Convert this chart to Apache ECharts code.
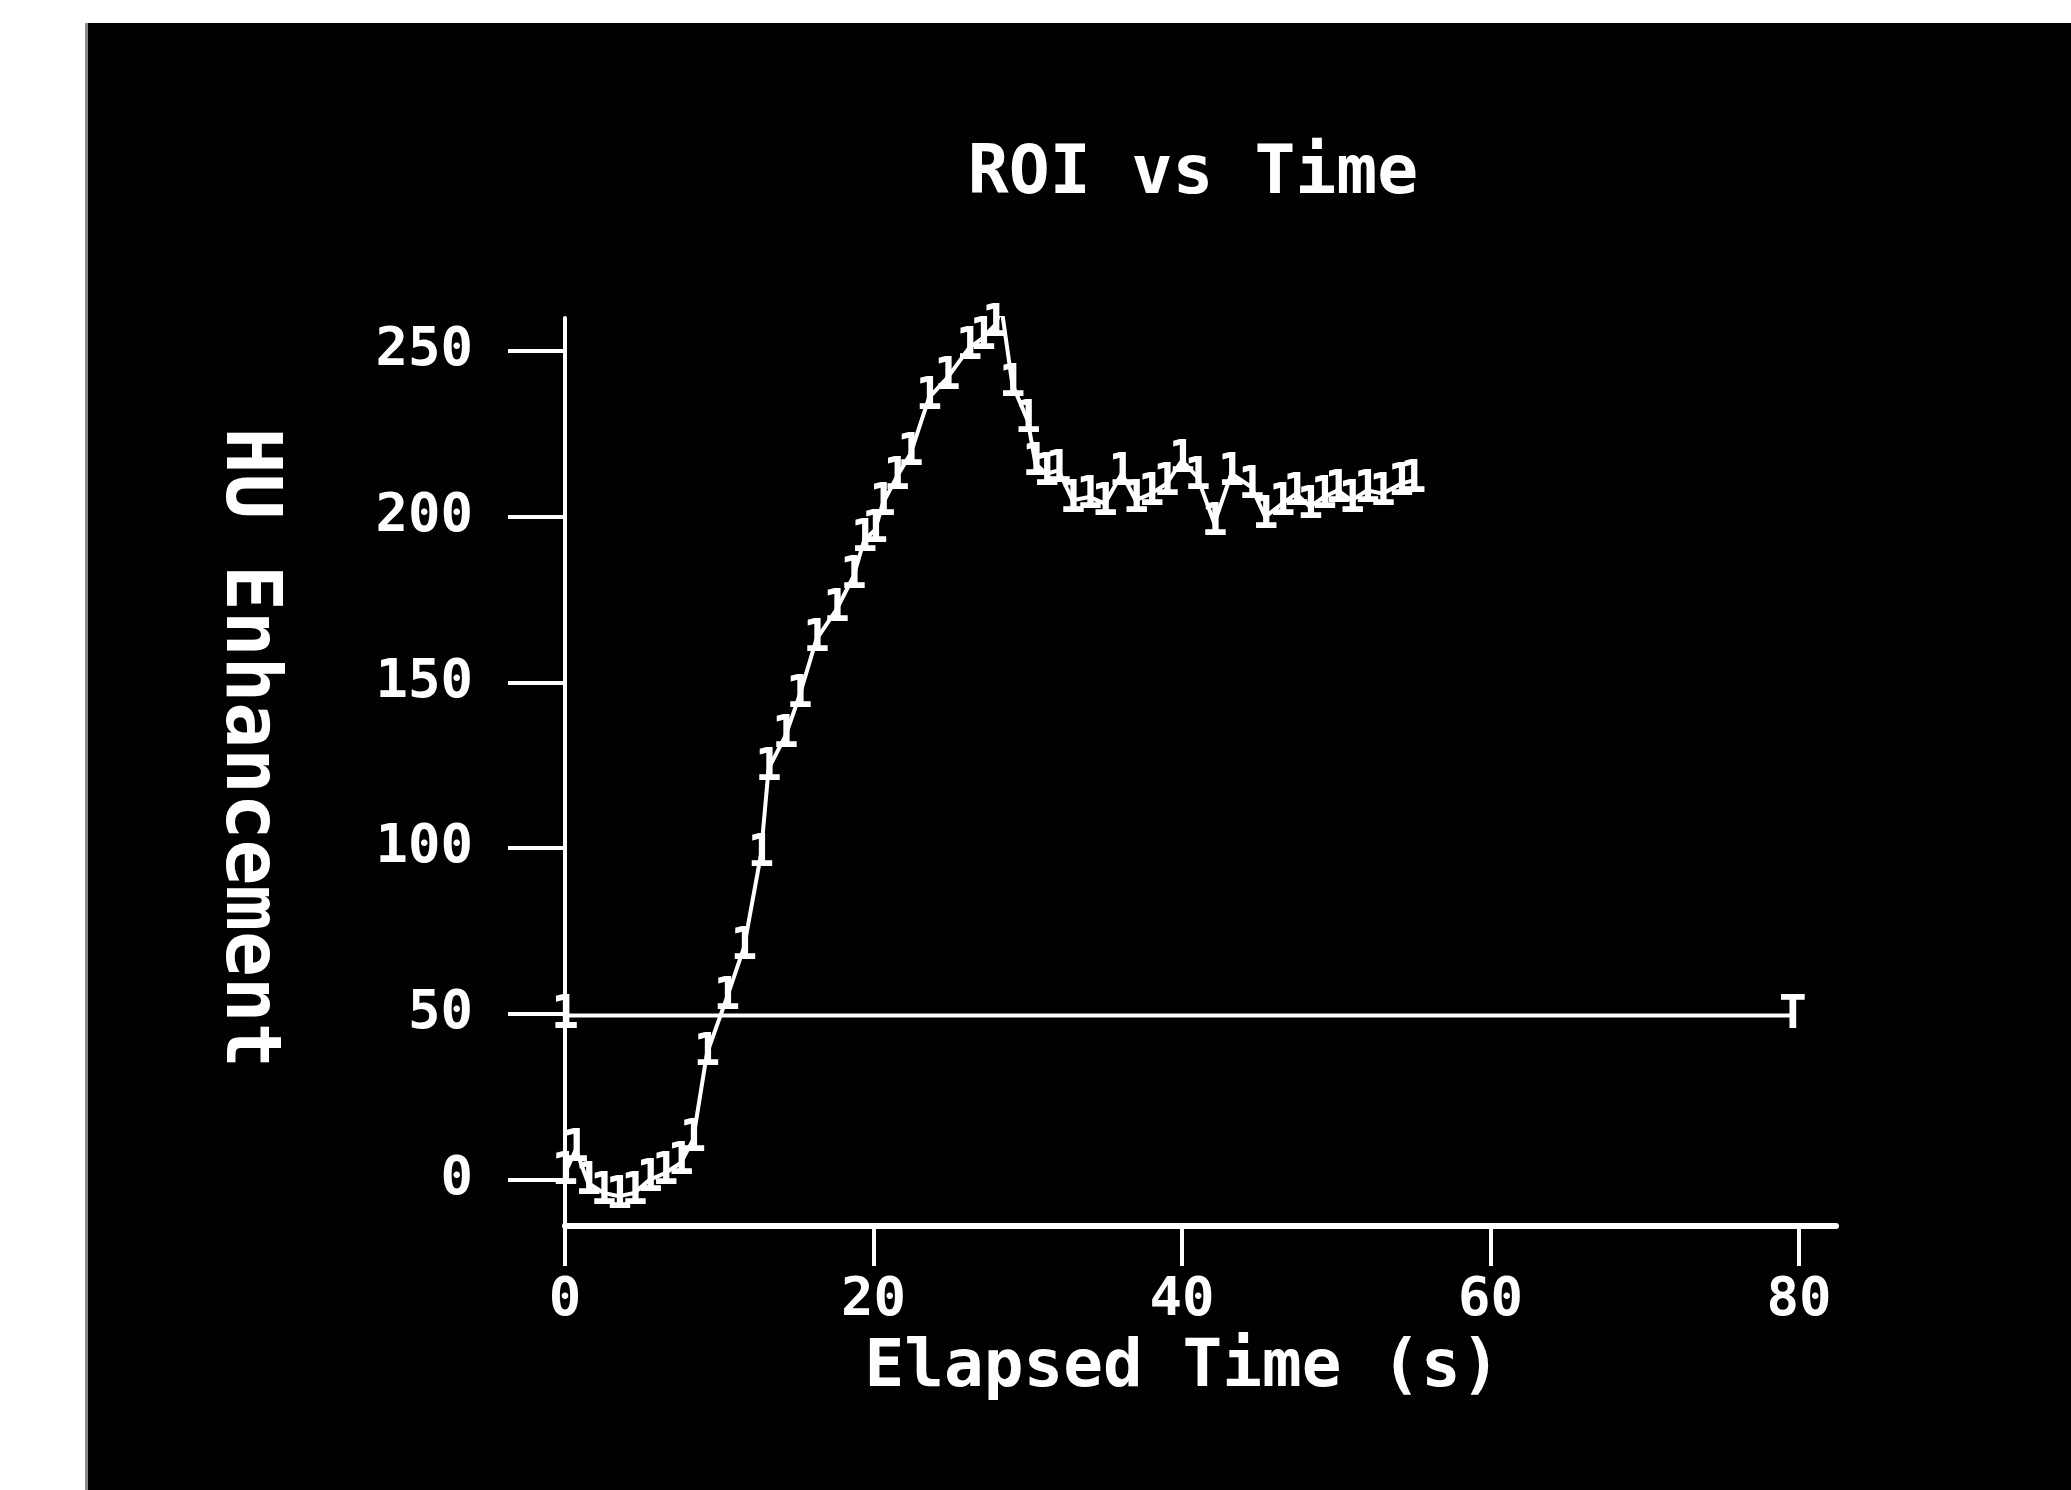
<!DOCTYPE html>
<html>
<head>
<meta charset="utf-8">
<script src="https://cdn.jsdelivr.net/npm/echarts@6/dist/echarts.min.js"></script>
<style>
  html, body { margin: 0; padding: 0; background: #ffffff; }
  #frame { position: absolute; left: 85px; top: 23px; width: 1983px; height: 1467px;
           border-left: 3px solid #8a8a8a; background: #000000; }
  #chart { width: 1983px; height: 1467px; }
</style>
</head>
<body>
<div id="frame"><div id="chart"></div></div>
<script>
// ---- data ----
const chartTitle = 'ROI vs Time';
const xAxisTitle = 'Elapsed Time (s)';
const yAxisTitle = 'HU Enhancement';

const xTicks = [0, 20, 40, 60, 80];
const yTicks = [0, 50, 100, 150, 200, 250];

const timeSec = [0, 0.7, 1.5, 2.5, 3.5, 4.5, 5.5, 6.5, 7.5, 8.3, 9.2, 10.5, 11.6, 12.7, 13.2,
  14.3, 15.2, 16.3, 17.6, 18.7, 19.4, 20.1, 20.6, 21.5, 22.4, 23.6, 24.8, 26.2, 27.1, 27.9,
  28.3, 29.0, 30.0, 30.5, 31.2, 32.0, 32.9, 34.0, 35.0, 36.1, 37.0, 38.0, 39.0, 40.0, 41.0,
  42.1, 43.2, 44.5, 45.4, 46.5, 47.4, 48.3, 49.2, 50.1, 51.0, 52.0, 53.0, 54.2, 55.0];
const huValues = [2, 9, -1, -4, -5, -4, 0, 2, 5, 12, 38, 55, 70, 98, 124,
  134, 146, 163, 172, 182, 193, 196, 204, 212, 219, 236, 242, 251, 254, 258,
  263, 240, 229, 216, 213, 214, 205, 206, 204, 213, 205, 207, 210, 217, 212,
  198, 213, 209, 200, 204, 207, 203, 206, 208, 205, 208, 207, 210, 211];

const thresholdTime = [0, 79.6];
const thresholdHU = [49.5, 49.5];
const thresholdMarks = ['1', 'T'];

const xMin = 0, xMax = 82.4;
const yMin = -14, yMax = 260;

// ---- chart ----
const mono = 'DejaVu Sans Mono';
const chart = echarts.init(document.getElementById('chart'), null, { renderer: 'canvas' });

const curve = timeSec.map((t, i) => [t, huValues[i]]);
const threshold = thresholdTime.map((t, i) => ({ value: [t, thresholdHU[i]], mark: thresholdMarks[i] }));

chart.setOption({
  animation: false,
  backgroundColor: '#000000',
  title: {
    text: chartTitle,
    left: 1100,
    top: 113,
    textAlign: 'center',
    textStyle: { color: '#ffffff', fontFamily: mono, fontWeight: 'bold', fontSize: 68 }
  },
  grid: { left: 477, right: 235, top: 295, bottom: 264, containLabel: false },
  xAxis: {
    type: 'value',
    min: xMin, max: xMax,
    name: xAxisTitle,
    nameLocation: 'middle',
    nameGap: 110,
    nameTextStyle: { color: '#ffffff', fontFamily: mono, fontWeight: 'bold', fontSize: 66, padding: [0, 36, 0, 0] },
    axisLine: { show: true, onZero: false, lineStyle: { color: '#ffffff', width: 6 } },
    axisTick: { show: true, inside: false, length: 40, customValues: xTicks, lineStyle: { color: '#ffffff', width: 4 } },
    axisLabel: { show: true, margin: 48, customValues: xTicks, color: '#ffffff',
                 fontFamily: mono, fontWeight: 'bold', fontSize: 54 },
    splitLine: { show: false }
  },
  yAxis: {
    type: 'value',
    min: yMin, max: yMax,
    name: yAxisTitle,
    nameLocation: 'middle',
    nameRotate: -90,
    nameGap: 280,
    nameTextStyle: { color: '#ffffff', fontFamily: mono, fontWeight: 'bold', fontSize: 76, padding: [0, 48, 0, 0] },
    axisLine: { show: true, onZero: false, lineStyle: { color: '#ffffff', width: 4 } },
    axisTick: { show: true, inside: false, length: 57, customValues: yTicks, lineStyle: { color: '#ffffff', width: 4 } },
    axisLabel: { show: true, margin: 92, customValues: yTicks, color: '#ffffff',
                 fontFamily: mono, fontWeight: 'bold', fontSize: 54 },
    splitLine: { show: false }
  },
  series: [
    {
      type: 'line',
      data: curve,
      showAllSymbol: true,
      symbol: 'circle',
      symbolSize: 1,
      itemStyle: { color: '#ffffff' },
      lineStyle: { color: '#ffffff', width: 4 },
      label: { show: true, position: 'inside', formatter: '1', color: '#ffffff',
               fontFamily: mono, fontWeight: 'bold', fontSize: 44 },
      z: 3
    },
    {
      type: 'line',
      data: threshold,
      symbol: 'circle',
      symbolSize: 1,
      itemStyle: { color: '#ffffff' },
      lineStyle: { color: '#ffffff', width: 4 },
      label: { show: true, position: 'inside', formatter: p => p.data.mark, color: '#ffffff',
               fontFamily: mono, fontWeight: 'bold', fontSize: 46 },
      z: 3
    }
  ]
});
</script>
</body>
</html>
